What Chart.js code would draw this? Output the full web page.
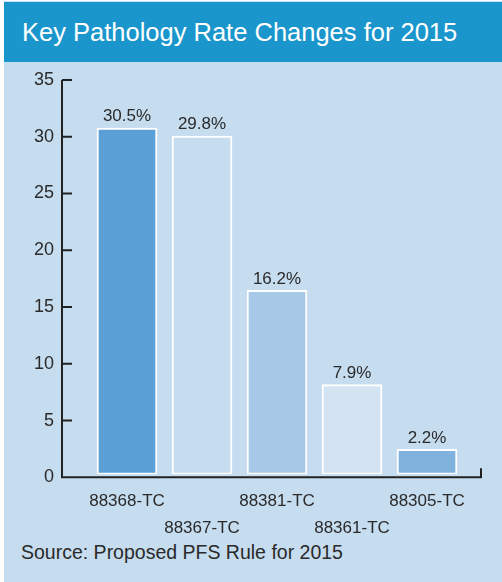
<!DOCTYPE html>
<html>
<head>
<meta charset="utf-8">
<script src="https://cdn.jsdelivr.net/npm/chart.js@4.4.1/dist/chart.umd.min.js"></script>
<style>
  html, body { margin: 0; padding: 0; background: #fff; }
  #wrap { position: relative; width: 502px; height: 582px; overflow: hidden; }
  #panel { position: absolute; left: 4px; top: 1px; right: 0; bottom: 0; background: #c6dcef; }
  #title {
    position: absolute; left: 4px; top: 2px; width: 498px; height: 60px;
    background: #1a96cc; color: #fff;
    font: 25.5px "Liberation Sans", Arial, sans-serif;
    line-height: 60px; padding-left: 18px; box-sizing: border-box;
  }
  #source {
    position: absolute; left: 21px; top: 541px;
    font: 19.5px "Liberation Sans", Arial, sans-serif; color: #2a2a2a;
  }
  canvas { position: absolute; left: 0; top: 0; }
</style>
</head>
<body>
<div id="wrap">
  <div id="panel"></div>
  <div id="title">Key Pathology Rate Changes for 2015</div>
  <div id="source">Source: Proposed PFS Rule for 2015</div>
  <canvas id="rateChart" width="502" height="582"></canvas>
</div>
<script>
// Data
const codes = ['88368-TC', '88367-TC', '88381-TC', '88361-TC', '88305-TC'];
const rateChanges = [30.5, 29.8, 16.2, 7.9, 2.2];
const yTicks = [0, 5, 10, 15, 20, 25, 30, 35];

const barColors = ['#5a9fd5', '#c6dcef', '#a7c8e6', '#d3e3f2', '#80b2de'];
const textColor = '#2a2a2a';
const AXIS_DROP = 3; // axis line sits a bit below the bars

// Staggered category labels: even ones on the first row, odd ones on the second
const xLabels = codes.map((c, i) => (i % 2 === 0 ? [c, ''] : ['', c]));

// Draws the axis lines, inward ticks and the value labels
const axisPlugin = {
  id: 'axisPlugin',
  afterDatasetsDraw(chart) {
    const { ctx, chartArea, scales } = chart;
    const y = scales.y;
    const axisX = 62;
    const axisY = chartArea.bottom + AXIS_DROP;
    const topY = y.getPixelForValue(35) + AXIS_DROP;

    ctx.save();
    ctx.strokeStyle = '#222';
    ctx.lineWidth = 2;
    ctx.beginPath();
    ctx.moveTo(axisX, topY);
    ctx.lineTo(axisX, axisY);
    ctx.lineTo(481, axisY);
    ctx.lineTo(481, axisY - 9);
    yTicks.forEach(t => {
      const py = y.getPixelForValue(t) + AXIS_DROP;
      ctx.moveTo(axisX, py);
      ctx.lineTo(axisX + 10, py);
    });
    ctx.stroke();

    // value labels above bars
    ctx.fillStyle = textColor;
    ctx.font = '17px "Liberation Sans", Arial, sans-serif';
    ctx.textAlign = 'center';
    ctx.textBaseline = 'bottom';
    chart.getDatasetMeta(0).data.forEach((bar, i) => {
      ctx.fillText(rateChanges[i].toFixed(1) + '%', bar.x, bar.y - 3);
    });
    ctx.restore();
  }
};

const ctx = document.getElementById('rateChart').getContext('2d');
new Chart(ctx, {
  type: 'bar',
  data: {
    labels: xLabels,
    datasets: [{
      data: rateChanges,
      backgroundColor: barColors,
      borderColor: '#ffffff',
      borderWidth: 2,
      borderSkipped: false,
      barThickness: 60
    }]
  },
  options: {
    responsive: false,
    animation: false,
    layout: { padding: { top: 77, left: 0, right: 37.5, bottom: 0 } },
    plugins: {
      legend: { display: false },
      tooltip: { enabled: false }
    },
    scales: {
      y: {
        min: 0,
        max: 35,
        afterFit(scale) { scale.width = 89.5; },
        afterBuildTicks(scale) { scale.ticks = yTicks.map(v => ({ value: v })); },
        grid: { display: false, drawTicks: false },
        border: { display: false },
        ticks: {
          padding: 35.5,
          labelOffset: AXIS_DROP,
          color: textColor,
          font: { family: '"Liberation Sans", Arial, sans-serif', size: 18 }
        }
      },
      x: {
        afterFit(scale) { scale.height = 107.7; },
        grid: { display: false, drawTicks: false },
        border: { display: false },
        ticks: {
          padding: 14,
          maxRotation: 0,
          autoSkip: false,
          color: textColor,
          font: { family: '"Liberation Sans", Arial, sans-serif', size: 17, lineHeight: 1.55 }
        }
      }
    }
  },
  plugins: [axisPlugin]
});
</script>
</body>
</html>
